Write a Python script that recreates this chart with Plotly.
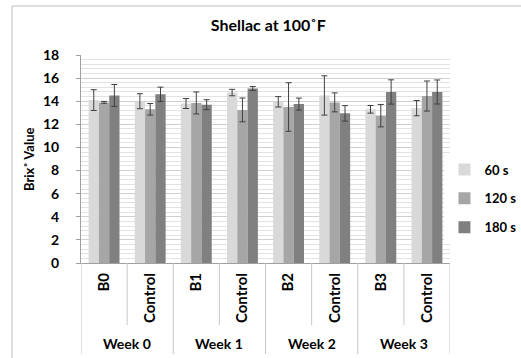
import plotly.graph_objects as go

weeks = ["Week 0", "Week 1", "Week 2", "Week 3"]
samples = ["B0", "Control", "B1", "Control", "B2", "Control", "B3", "Control"]
series_names = ["60 s", "120 s", "180 s"]

v60 = [14.1, 14.0, 13.8, 14.75, 13.95, 14.5, 13.3, 13.4]
v120 = [13.9, 13.3, 13.85, 13.25, 13.5, 13.9, 12.75, 14.45]
v180 = [14.5, 14.6, 13.7, 15.1, 13.75, 12.95, 14.8, 14.8]

e60 = [0.9, 0.65, 0.43, 0.28, 0.45, 1.7, 0.33, 0.66]
e120 = [0.08, 0.5, 0.95, 1.03, 2.1, 0.82, 0.97, 1.3]
e180 = [0.95, 0.62, 0.43, 0.17, 0.52, 0.67, 1.05, 1.04]

colors = ["#d9d9d9", "#a6a6a6", "#808080"]

xpos = list(range(len(samples)))

fig = go.Figure()
for name, vals, errs, col in zip(series_names, [v60, v120, v180], [e60, e120, e180], colors):
    fig.add_trace(go.Bar(
        x=xpos, y=vals, name=name, legendgroup=name,
        marker=dict(color=col, line=dict(width=0)),
        error_y=dict(type="data", array=errs, color="#404040", thickness=1, width=3),
    ))

font_family = "Lato, 'Open Sans', sans-serif"
fig.update_layout(
    width=521, height=358,
    margin=dict(l=81, r=71, t=55, b=95, autoexpand=False),
    paper_bgcolor="white", plot_bgcolor="white",
    barmode="group", bargap=0.33, bargroupgap=0,
    font=dict(family=font_family, color="black", size=14, weight="bold"),
    title=dict(text="Shellac at 100˚F", x=0.515, xanchor="center", y=0.93, yanchor="middle",
               font=dict(size=16, family=font_family, weight="bold")),
    legend=dict(x=0.985, y=0.31, xanchor="left", yanchor="middle", tracegroupgap=9,
                font=dict(size=13, weight="bold"), itemwidth=30),
    showlegend=True,
)
fig.update_yaxes(
    range=[0, 18], dtick=2, showline=True, linecolor="#a0a0a0", linewidth=1,
    ticks="outside", ticklen=4, tickcolor="#a0a0a0", ticklabelstandoff=14,
    showgrid=True, gridcolor="#d0d0d0", gridwidth=1,
    minor=dict(dtick=0.4, showgrid=True, gridcolor="#e2e2e2", gridwidth=1),
    tickfont=dict(size=14, weight="bold"),
    zeroline=False, automargin=False,
)
fig.update_xaxes(
    range=[-0.5, len(samples) - 0.5], tickvals=xpos, ticktext=samples, tickangle=-90,
    showline=True, linecolor="#a0a0a0", ticks="", ticklabelstandoff=3,
    showgrid=False, zeroline=False, automargin=False,
    tickfont=dict(size=15, weight="bold"),
)

# y-axis title
fig.add_annotation(text="Brix˚ Value", xref="paper", yref="paper", x=-0.141, y=0.5,
                   textangle=-90, showarrow=False, font=dict(size=13, weight="bold"),
                   xanchor="center", yanchor="middle")

# dividers between sample labels within each week
for i in range(len(weeks)):
    fig.add_shape(type="line", xref="x", yref="paper", x0=2 * i + 0.5, x1=2 * i + 0.5,
                  y0=0, y1=-0.298, line=dict(color="#c8c8c8", width=1))
# dividers between weeks
for i in range(len(weeks) + 1):
    fig.add_shape(type="line", xref="x", yref="paper", x0=2 * i - 0.5, x1=2 * i - 0.5,
                  y0=0, y1=-0.4375, line=dict(color="#c8c8c8", width=1))
# week labels
for i, w in enumerate(weeks):
    fig.add_annotation(text=w, xref="x", yref="paper", x=2 * i + 0.5, y=-0.385,
                       showarrow=False, font=dict(size=14, weight="bold"),
                       xanchor="center", yanchor="middle")

# chart outer border
fig.add_shape(type="rect", xref="paper", yref="paper", x0=-0.187, x1=1.3, y0=-0.6, y1=1.2356,
              line=dict(color="#bfbfbf", width=1), fillcolor="rgba(0,0,0,0)", layer="below")

fig.write_html("out.html", config={"displayModeBar": False},
               post_script="document.body.style.margin='0';document.body.style.padding='0';")
